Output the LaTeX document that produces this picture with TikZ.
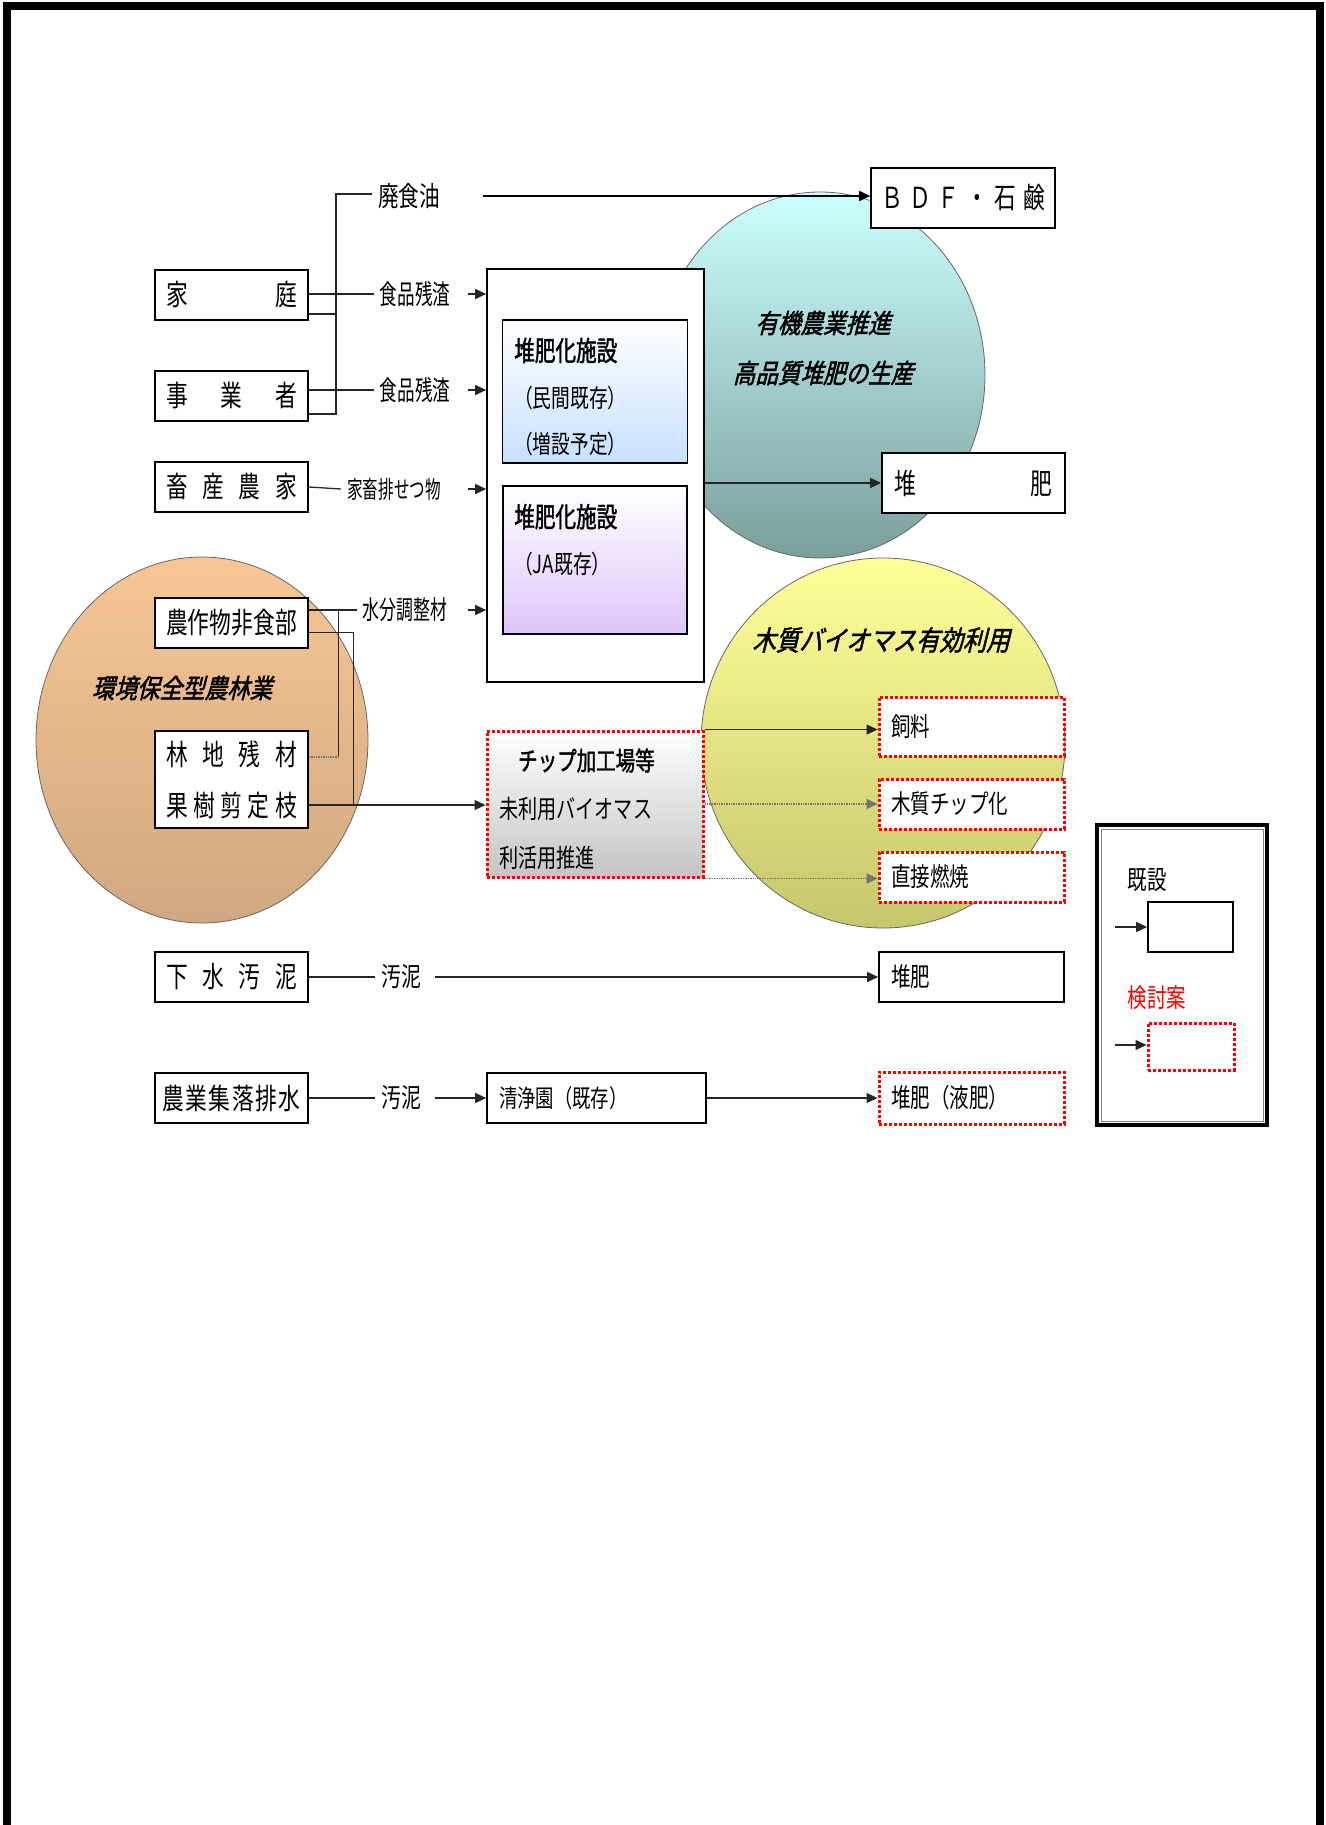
\documentclass[tikz,border=0pt]{standalone}
\usepackage{fontspec}
\setmainfont{Noto Sans CJK JP}[FakeStretch=0.75]
\newfontfamily\jpnarrow{Noto Sans CJK JP}[FakeStretch=0.65]
\newfontfamily\jpbold{Noto Sans CJK JP}[FakeStretch=0.75,FakeBold=1.5]
\newfontfamily\jpital{Noto Sans CJK JP}[FakeStretch=0.85,FakeSlant=0.25,FakeBold=1.8]
\usetikzlibrary{arrows.meta}
\definecolor{tealtop}{RGB}{204,255,255}
\definecolor{tealbot}{RGB}{122,158,156}
\definecolor{yeltop}{RGB}{255,255,153}
\definecolor{yelbot}{RGB}{198,198,108}
\definecolor{orgtop}{RGB}{247,198,148}
\definecolor{orgbot}{RGB}{208,168,128}
\definecolor{blubot}{RGB}{198,224,255}
\definecolor{purbot}{RGB}{222,196,250}
\definecolor{chipgray}{RGB}{196,196,196}
\newcommand{\jspread}[2][131pt]{\makebox[#1]{#2}}
\tikzset{
  box/.style={draw,line width=1.6pt,fill=white,minimum width=153pt,minimum height=50pt,
    inner sep=0pt,font=\fontsize{29}{32}\selectfont},
  plan/.style={draw=red,line width=3pt,dash pattern=on 2.6pt off 2.4pt,fill=white,
    inner sep=0pt},
  rbox/.style={minimum width=185pt,minimum height=50pt,text width=161pt,align=left,
    inner xsep=12pt,font=\fontsize{26}{30}\selectfont},
  lbl/.style={inner sep=6pt,font=\jpnarrow\fontsize{27}{30}\selectfont},
  circlbl/.style={align=center,font=\jpital\fontsize{26.5}{50}\selectfont},
  con/.style={line width=1.3pt,black!85},
  dotline/.style={line width=1.8pt,black!55,dash pattern=on 1.4pt off 1pt}
}

\begin{document}
\begin{tikzpicture}[x=1pt,y=-1pt,>={Triangle[length=11pt,width=10pt]}]
  \useasboundingbox (0,0) rectangle (1325,1825);
  \draw[line width=7.5pt] (7,1825) -- (7,6) -- (1320,6) -- (1320,1825);

  % circles
  \shadedraw[top color=tealtop,bottom color=tealbot,draw=black!60,line width=0.8pt]
    (820,375) ellipse [x radius=165pt,y radius=183pt];
  \shadedraw[top color=yeltop,bottom color=yelbot,draw=black!60,line width=0.8pt]
    (883,743) ellipse [x radius=182pt,y radius=185pt];
  \shadedraw[top color=orgtop,bottom color=orgbot,draw=black!60,line width=0.8pt]
    (202,740) ellipse [x radius=166pt,y radius=183pt];

  % sources
  \node[box] (katei) at (231.5,295) {\jspread{家\hfill 庭}};
  \node[box] (jigyo) at (231.5,396) {\jspread{事\hfill 業\hfill 者}};
  \node[box] (chikusan) at (231.5,487) {\jspread{畜\hfill 産\hfill 農\hfill 家}};
  \node[box] (nousaku) at (231.5,623) {\jspread{農\hfill 作\hfill 物\hfill 非\hfill 食\hfill 部}};
  \node[box,minimum height=97pt,align=center,font=\fontsize{29}{51}\selectfont] (rinchi)
    at (231.5,779.5) {\jspread{林\hfill 地\hfill 残\hfill 材}\\\jspread{果\hfill 樹\hfill 剪\hfill 定\hfill 枝}};
  \node[box] (gesui) at (231.5,977) {\jspread{下\hfill 水\hfill 汚\hfill 泥}};
  \node[box] (nouhai) at (231.5,1098) {\jspread[138pt]{農\hfill 業\hfill 集\hfill 落\hfill 排\hfill 水}};

  % materials
  \node[lbl,font=\fontsize{27.5}{30}\selectfont] (haishoku) at (409,196) {廃食油};
  \node[lbl] (zansa1) at (415,294) {食品残渣};
  \node[lbl,font=\jpnarrow\fontsize{24}{28}\selectfont] (kachiku) at (394,489) {家畜排せつ物};
  \node[lbl] (zansa2) at (415,390) {食品残渣};
  \node[lbl,font=\jpnarrow\fontsize{26}{28}\selectfont] (suibun) at (405,610) {水分調整材};
  \node[lbl,font=\fontsize{26.5}{30}\selectfont] (odei1) at (401,977) {汚泥};
  \node[lbl,font=\fontsize{26.5}{30}\selectfont] (odei2) at (401,1098) {汚泥};

  % composting facilities
  \node[box,minimum width=217pt,minimum height=413pt] (bigbox) at (595.5,475.5) {};
  \node[box,top color=white,bottom color=blubot,minimum width=185pt,minimum height=143pt]
    (tf1) at (595,391.5) {};
  \node[box,top color=white,bottom color=purbot,minimum width=184pt,minimum height=148pt]
    (tf2) at (595,560) {};
  \node[anchor=west,align=left,inner sep=0pt,font=\fontsize{25}{46.5}\selectfont] (tf1txt)
    at (514,397) {{\jpbold\fontsize{27.5}{46.5}\selectfont 堆肥化施設}\\（民間既存）\\（増設予定）};
  \node[anchor=west,align=left,inner sep=0pt,font=\fontsize{25}{46.5}\selectfont] (tf2txt)
    at (514,540) {{\jpbold\fontsize{27.5}{46.5}\selectfont 堆肥化施設}\\（JA既存）};

  % chip plant
  \node[plan,top color=white,bottom color=chipgray,minimum width=216pt,minimum height=146pt]
    (chip) at (595,804) {};
  \node[anchor=west,align=left,inner sep=0pt,font=\fontsize{25.5}{48.5}\selectfont] (chiptxt)
    at (499,809) {\hspace*{19pt}{\jpbold\fontsize{26}{48.5}\selectfont チップ加工場等}\\未利用バイオマス\\利活用推進};
  \node[box,rbox,minimum width=219pt,text width=195pt,font=\fontsize{24.5}{28}\selectfont] (seijo)
    at (596.5,1098) {清浄園（既存）};

  % products
  \node[box,minimum width=184pt,minimum height=60pt] (bdf) at (963,198)
    {\jspread[164pt]{Ｂ\hfill Ｄ\hfill Ｆ\hfill ・\hfill 石\hfill 鹸}};
  \node[box,minimum width=183pt,minimum height=60pt] (taihi1) at (973.5,483)
    {\jspread[158pt]{堆\hfill 肥}};
  \node[plan,rbox,minimum height=59pt] (shiryo) at (971.5,726.5) {飼料};
  \node[plan,rbox] (mokushitsu) at (971.5,804) {木質チップ化};
  \node[plan,rbox] (chokusetsu) at (971.5,877) {直接燃焼};
  \node[box,rbox] (taihi2) at (971.5,977) {堆肥};
  \node[plan,rbox,minimum height=52pt] (ekihi) at (971.5,1098) {堆肥（液肥）};

  % circle labels
  \node[circlbl] (yuki) at (823,348) {有機農業推進\\高品質堆肥の生産};
  \node[circlbl,font=\jpital\fontsize{27.5}{30}\selectfont] (mokubio) at (881,640) {木質バイオマス有効利用};
  \node[circlbl] (kankyo) at (182,688) {環境保全型農林業};

  % connectors
  \coordinate (b1) at (336,194);
  \coordinate (b2) at (336,414);
  \coordinate (in1) at (468,0);
  \coordinate (v1) at (338,610);
  \coordinate (v2) at (338,757);
  \coordinate (v3) at (353,632);
  \coordinate (v4) at (353,805);
  \draw[con] (haishoku.west |- b1) -- (b1) -- (b2) -- (b2 -| jigyo.east);
  \draw[con] ([yshift=-19pt]katei.east) -- ([yshift=-19pt]katei.east -| b1);
  \draw[con] (zansa1 -| katei.east) -- (zansa1.west);
  \draw[con] (zansa2 -| jigyo.east) -- (zansa2.west);
  \draw[con] (chikusan.east) -- (kachiku.west);
  \draw[->,line width=1.5pt] ([xshift=37pt]haishoku.east) -- (haishoku.east -| bdf.west);
  \foreach \n in {zansa1,zansa2,kachiku,suibun}
    \draw[->,con] (\n -| in1) -- (\n -| bigbox.west);
  \draw[->,con] (taihi1.west -| bigbox.east) -- (taihi1.west);

  \draw[con] (suibun -| nousaku.east) -- (suibun.west);
  \draw[con,line width=1pt] (v1) -- (v2);
  \draw[dotline] (v2 -| rinchi.east) -- (v2);
  \draw[con,line width=1pt] (v3 -| nousaku.east) -- (v3) -- (v4);
  \draw[->,con] (v4 -| rinchi.east) -- (v4 -| chip.west);

  \draw[->,con] (chip.north east) -- (chip.north east -| shiryo.west);
  \draw[->,dotline] (chip.east) -- (mokushitsu.west);
  \draw[->,dotline] (chip.south east) -- (chip.south east -| chokusetsu.west);

  \draw[con] (gesui.east) -- (odei1.west);
  \draw[->,con] ([xshift=8pt]odei1.east) -- (taihi2.west);
  \draw[con] (nouhai.east) -- (odei2.west);
  \draw[->,con] ([xshift=8pt]odei2.east) -- (seijo.west);
  \draw[->,con] (seijo.east) -- (ekihi.west);

  % legend
  \node[draw,line width=3.5pt,outer sep=0pt,minimum width=170pt,minimum height=300pt] (legend)
    at (1182,975) {};
  \draw[gray,line width=0.8pt] ([xshift=4pt,yshift=-4pt]legend.north west)
    rectangle ([xshift=-4pt,yshift=4pt]legend.south east);
  \node[lbl,font=\fontsize{26}{30}\selectfont] (kisetsu) at (1147,880) {既設};
  \node[box,minimum width=85pt,minimum height=50pt] (lgbox1) at (1190.5,927) {};
  \node[lbl,font=\fontsize{26}{30}\selectfont,text=red] (kentou) at (1157,998) {検討案};
  \node[plan,minimum width=86pt,minimum height=47pt] (lgbox2) at (1191,1046.5) {};
  \coordinate (lg1) at (1115,927);
  \coordinate (lg2) at (1115,1045);
  \draw[->,con] (lg1) -- (lgbox1.west);
  \draw[->,con] (lg2) -- (lg2 -| lgbox2.west);
\end{tikzpicture}
\end{document}
